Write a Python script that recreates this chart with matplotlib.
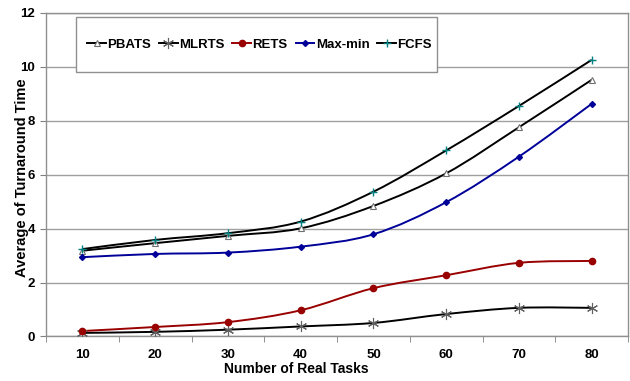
import numpy as np
import matplotlib
matplotlib.use("Agg")
import matplotlib.pyplot as plt
from matplotlib.path import Path
from matplotlib.patches import PathPatch, Rectangle

plt.rcParams["font.family"] = ["Liberation Sans", "DejaVu Sans"]
plt.rcParams["font.weight"] = "bold"

# Values
tasks = ["10", "20", "30", "40", "50", "60", "70", "80"]
pbats = [3.18, 3.46, 3.73, 4.01, 4.84, 6.05, 7.76, 9.52]
mlrts = [0.13, 0.17, 0.25, 0.37, 0.50, 0.83, 1.06, 1.06]
rets = [0.20, 0.35, 0.53, 0.97, 1.79, 2.27, 2.73, 2.80]
maxmin = [2.94, 3.06, 3.11, 3.33, 3.79, 4.98, 6.67, 8.63]
fcfs = [3.24, 3.58, 3.83, 4.26, 5.37, 6.90, 8.55, 10.26]


def smooth_path(xs, ys):
    # Excel-style smoothed line: Bezier segments through the data points
    pts = np.column_stack([xs, ys]).astype(float)
    n = len(pts)
    verts = [pts[0]]
    codes = [Path.MOVETO]
    for i in range(n - 1):
        p0 = pts[max(i - 1, 0)]
        p1 = pts[i]
        p2 = pts[i + 1]
        p3 = pts[min(i + 2, n - 1)]
        c1 = p1 + (p2 - p0) / 6.0
        c2 = p2 - (p3 - p1) / 6.0
        verts += [c1, c2, p2]
        codes += [Path.CURVE4] * 3
    return Path(verts, codes)


fig = plt.figure(figsize=(6.3, 3.81), dpi=100)
ax = fig.add_axes([0.073, 0.117, 0.924, 0.849])

x = np.arange(len(tasks))
series = [
    ("PBATS", pbats, "black", dict(marker="^", markersize=5, markerfacecolor="white",
                                   markeredgecolor="#707070", markeredgewidth=0.8)),
    ("MLRTS", mlrts, "black", dict(marker=(6, 2, 0), markersize=8, markeredgecolor="#606060",
                                   markeredgewidth=0.8)),
    ("RETS", rets, "#990000", dict(marker="o", markersize=4.5, markerfacecolor="#990000",
                                   markeredgecolor="#990000")),
    ("Max-min", maxmin, "#000099", dict(marker="D", markersize=3, markerfacecolor="#000099",
                                        markeredgecolor="#000099")),
    ("FCFS", fcfs, "black", dict(marker="+", markersize=6, markeredgecolor="#008080",
                                 markeredgewidth=1.0)),
]

for name, vals, color, mk in series:
    ax.add_patch(PathPatch(smooth_path(x, vals), facecolor="none", edgecolor=color,
                           linewidth=1.4, zorder=3))
    ax.plot(x, vals, linestyle="none", zorder=4, **mk)
    # legend proxy
    ax.plot([], [], color=color, linewidth=1.4, label=name, **mk)

ax.set_xlim(-0.5, len(tasks) - 0.5)
ax.set_ylim(0, 12)
ax.set_yticks(np.arange(0, 13, 2))
ax.set_xticks(x)
ax.set_xticklabels(tasks)
ax.set_xticks(np.arange(-0.5, len(tasks), 1), minor=True)
ax.tick_params(axis="x", which="major", length=0, pad=9, labelsize=9.5)
ax.tick_params(axis="x", which="minor", length=4, color="#808080", direction="out")
ax.tick_params(axis="y", length=4, color="#808080", labelsize=9.5, pad=4)

ax.grid(axis="y", color="#a0a0a0", linewidth=1.0)
ax.set_axisbelow(True)
for s in ax.spines.values():
    s.set_color("#909090")
    s.set_linewidth(1.0)

ax.set_xlabel("Number of Real Tasks", fontsize=10, fontweight="bold", va="center")
ax.xaxis.set_label_coords(0.43, -0.1)
ax.set_ylabel("Average of Turnaround Time", fontsize=10.5, fontweight="bold", va="center")
ax.yaxis.set_label_coords(-0.042, 0.49)

# legend box (drawn separately so its padding matches the original)
ax.add_patch(Rectangle((0.0515, 0.8176), 0.620, 0.170, transform=ax.transAxes,
                       facecolor="white", edgecolor="#909090", linewidth=1.0,
                       zorder=5, clip_on=False))
leg = ax.legend(loc="center", bbox_to_anchor=(0.367, 0.9026), ncol=5,
                frameon=False, handlelength=1.4, handletextpad=0.12,
                columnspacing=0.6, fontsize=9.5, borderpad=0, borderaxespad=0)
leg.set_zorder(6)

plt.savefig("out.png", dpi=100)
